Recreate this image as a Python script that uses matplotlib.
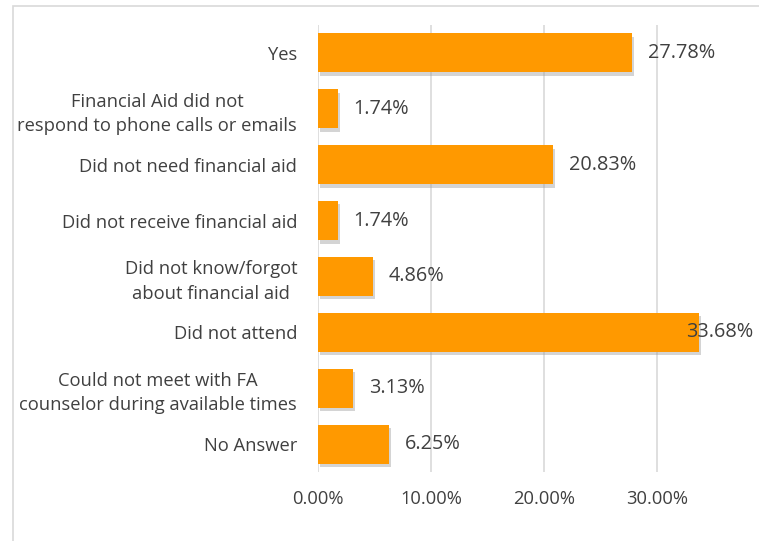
import matplotlib.pyplot as plt
import matplotlib.patheffects as pe
from matplotlib.patches import Rectangle
from matplotlib.ticker import FuncFormatter

categories = [
    'Yes',
    'Financial Aid did not\nrespond to phone calls or emails',
    'Did not need financial aid',
    'Did not receive financial aid',
    'Did not know/forgot\nabout financial aid',
    'Did not attend',
    'Could not meet with FA\ncounselor during available times',
    'No Answer',
]
values = [0.2778, 0.0174, 0.2083, 0.0174, 0.0486, 0.3368, 0.0313, 0.0625]
x_ticks = [0.0, 0.1, 0.2, 0.3]

plt.rcParams['font.family'] = ['Open Sans', 'DejaVu Sans']
text_color = '#404040'
bar_color = '#FF9900'

W, H = 759, 541
fig = plt.figure(figsize=(W / 100, H / 100), dpi=100)

# chart frame
fig.patches.append(Rectangle((13 / W, -0.1), 1.2, (H - 6) / H + 0.1,
                             transform=fig.transFigure, fill=False,
                             edgecolor='#D9D9D9', linewidth=1.2))

left, right, top, bottom = 318, 753, 25, 472
ax = fig.add_axes([left / W, 1 - bottom / H, (right - left) / W, (bottom - top) / H])

xmax = 0.385
ypos = list(range(len(categories)))
bars = ax.barh(ypos, values, height=0.7, color=bar_color, zorder=3)
for b in bars:
    b.set_path_effects([pe.SimplePatchShadow(offset=(1.5, -2.5), shadow_rgbFace='#A0A0A0', alpha=0.45),
                        pe.Normal()])

ax.set_ylim(len(categories) - 0.5, -0.5)
ax.set_xlim(0, xmax)
ax.set_yticks(ypos)
ax.set_yticklabels(categories, multialignment='center', linespacing=1.45)
ax.set_xticks(x_ticks)
ax.xaxis.set_major_formatter(FuncFormatter(lambda v, p: '%.2f%%' % (v * 100)))
ax.tick_params(axis='y', length=0, pad=15, labelsize=13.2, labelcolor=text_color)
ax.tick_params(axis='x', length=0, pad=13, labelsize=13.2, labelcolor=text_color)
ax.grid(axis='x', color='#D9D9D9', linewidth=1.2, zorder=0)
for s in ax.spines.values():
    s.set_visible(False)

for y, v in zip(ypos, values):
    label = '%.2f%%' % (v * 100)
    if v + 0.07 > xmax:
        ax.text(xmax, y, label, ha='right', va='center', fontsize=14.3,
                color=text_color, zorder=5)
    else:
        ax.text(v + 0.014, y, label, ha='left', va='center', fontsize=14.3,
                color=text_color, zorder=5)

fig.savefig('out.png', dpi=100)
